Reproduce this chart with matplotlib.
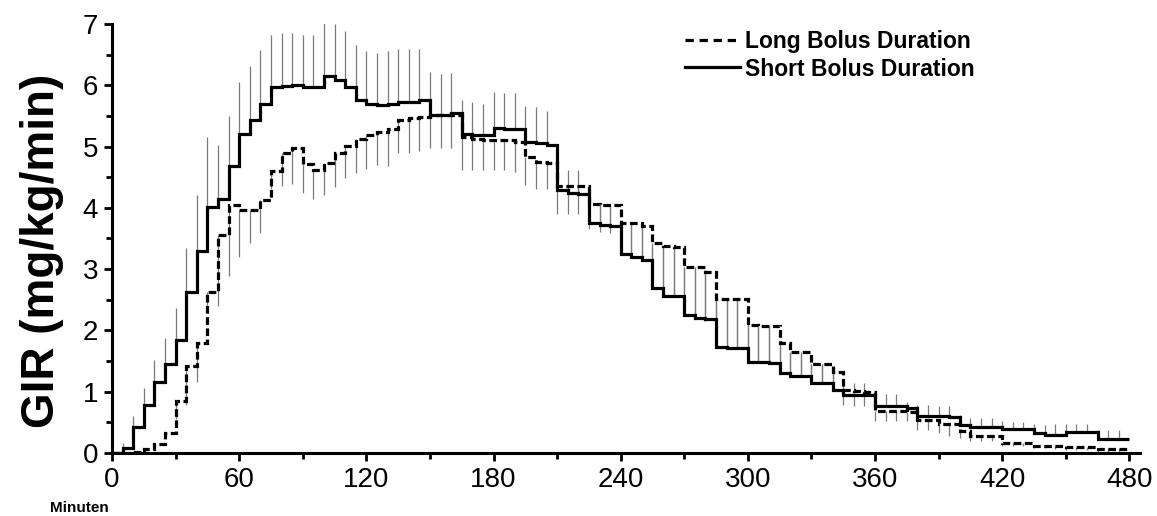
import matplotlib
matplotlib.use('Agg')
import matplotlib.pyplot as plt
from matplotlib.lines import Line2D
from matplotlib.ticker import MultipleLocator
import numpy as np

plt.rcParams['font.family'] = ['Liberation Sans', 'DejaVu Sans']

# Zeitraster: 5-Minuten-Intervalle von 0 bis 480 min
edges = list(range(0, 485, 5))

# Short Bolus Duration: Mittelwert und SD (nach oben)
short_mean = [0.0, 0.08, 0.42, 0.78, 1.16, 1.46, 1.85, 2.63, 3.30, 4.01,
              4.15, 4.68, 5.21, 5.44, 5.69, 5.98, 5.99, 6.01, 5.98, 5.98,
              6.15, 6.08, 5.98, 5.76, 5.70, 5.68, 5.70, 5.73, 5.73, 5.76,
              5.52, 5.52, 5.54, 5.20, 5.19, 5.19, 5.31, 5.29, 5.29, 5.07,
              5.06, 5.02, 4.29, 4.24, 4.23, 3.75, 3.72, 3.70, 3.25, 3.19,
              3.15, 2.70, 2.56, 2.56, 2.25, 2.21, 2.18, 1.73, 1.72, 1.72,
              1.49, 1.49, 1.47, 1.31, 1.25, 1.25, 1.15, 1.15, 1.03, 0.94,
              0.94, 0.94, 0.77, 0.77, 0.77, 0.74, 0.60, 0.60, 0.60, 0.59,
              0.45, 0.42, 0.42, 0.42, 0.39, 0.39, 0.39, 0.33, 0.30, 0.30,
              0.34, 0.35, 0.35, 0.23, 0.23, 0.23]
short_sd = [0.0, 0.08, 0.18, 0.28, 0.36, 0.41, 0.52, 0.71, 0.91, 1.14,
            0.88, 0.82, 0.85, 0.87, 0.89, 0.84, 0.87, 0.85, 0.84, 0.84,
            0.90, 0.92, 0.91, 0.90, 0.86, 0.84, 0.86, 0.86, 0.86, 0.84,
            0.70, 0.67, 0.66, 0.56, 0.53, 0.51, 0.58, 0.59, 0.58, 0.59,
            0.58, 0.56, 0.33, 0.38, 0.38, 0.35, 0.36, 0.36, 0.50, 0.55,
            0.57, 0.67, 0.81, 0.78, 0.79, 0.80, 0.81, 0.82, 0.80, 0.79,
            0.61, 0.57, 0.59, 0.44, 0.37, 0.37, 0.30, 0.30, 0.27, 0.21,
            0.21, 0.21, 0.20, 0.20, 0.20, 0.10, 0.18, 0.18, 0.16, 0.17,
            0.17, 0.15, 0.15, 0.15, 0.13, 0.12, 0.12, 0.15, 0.16, 0.18,
            0.14, 0.13, 0.13, 0.15, 0.15, 0.15]

# Long Bolus Duration: Mittelwert und SD (nach unten)
long_mean = [0.0, 0.0, 0.02, 0.06, 0.15, 0.33, 0.85, 1.42, 1.80, 2.62,
             3.56, 4.05, 3.97, 3.96, 4.13, 4.60, 4.90, 4.97, 4.72, 4.62,
             4.73, 4.89, 5.01, 5.13, 5.19, 5.24, 5.28, 5.44, 5.46, 5.49,
             5.51, 5.51, 5.51, 5.15, 5.13, 5.10, 5.10, 5.10, 5.07, 4.83,
             4.75, 4.74, 4.36, 4.36, 4.36, 4.06, 4.05, 4.04, 3.76, 3.76,
             3.70, 3.42, 3.37, 3.36, 3.04, 3.03, 2.96, 2.52, 2.52, 2.51,
             2.09, 2.08, 2.08, 1.79, 1.65, 1.65, 1.46, 1.46, 1.32, 1.02,
             1.01, 1.00, 0.68, 0.68, 0.68, 0.67, 0.54, 0.54, 0.47, 0.47,
             0.36, 0.28, 0.28, 0.28, 0.17, 0.17, 0.16, 0.12, 0.12, 0.11,
             0.09, 0.09, 0.09, 0.06, 0.06, 0.06]
long_sd = [0.0, 0.0, 0.0, 0.0, 0.02, 0.05, 0.30, 0.63, 0.64, 0.22,
           1.16, 1.16, 0.77, 0.54, 0.54, 0.30, 0.54, 0.58, 0.47, 0.48,
           0.52, 0.55, 0.53, 0.56, 0.55, 0.54, 0.60, 0.55, 0.57, 0.57,
           0.54, 0.54, 0.54, 0.53, 0.51, 0.49, 0.49, 0.49, 0.48, 0.46,
           0.45, 0.44, 0.46, 0.46, 0.46, 0.40, 0.45, 0.45, 0.50, 0.55,
           0.55, 0.70, 0.80, 0.80, 0.80, 0.80, 0.80, 0.80, 0.80, 0.80,
           0.60, 0.60, 0.60, 0.45, 0.40, 0.40, 0.30, 0.30, 0.30, 0.24,
           0.24, 0.24, 0.15, 0.15, 0.15, 0.15, 0.16, 0.16, 0.15, 0.20,
           0.12, 0.08, 0.08, 0.08, 0.05, 0.05, 0.05, 0.04, 0.04, 0.04,
           0.04, 0.04, 0.04, 0.04, 0.04, 0.04]

x_ticks = [0, 60, 120, 180, 240, 300, 360, 420, 480]
y_ticks = [0, 1, 2, 3, 4, 5, 6, 7]

fig = plt.figure(figsize=(11.57, 5.16), dpi=100)
ax = fig.add_axes([0.0968, 0.1221, 0.8885, 0.8314])

x_pts = np.array(edges[:-1])
sm = np.array(short_mean)
lm = np.array(long_mean)

# Fehlerbalken: Short nach oben, Long nach unten
ax.vlines(x_pts, sm, sm + np.array(short_sd), color='#7a7a7a', lw=0.9, zorder=1)
ax.vlines(x_pts, lm - np.array(long_sd), lm, color='#7a7a7a', lw=0.9, zorder=1)

dash = (0, (2.4, 1.1))
ax.stairs(long_mean, edges, baseline=None, color='black', lw=2.3,
          linestyle=dash, zorder=3)
ax.stairs(short_mean, edges, baseline=None, color='black', lw=2.3, zorder=4)

ax.set_xlim(0, 485)
ax.set_ylim(0, 7)
ax.set_xticks(x_ticks)
ax.set_yticks(y_ticks)
ax.xaxis.set_minor_locator(MultipleLocator(30))
ax.yaxis.set_minor_locator(MultipleLocator(0.5))
ax.tick_params(axis='both', which='major', direction='out', length=6, width=2,
               labelsize=20, pad=4)
ax.tick_params(axis='both', which='minor', direction='out', length=4, width=2)

for side in ['top', 'right']:
    ax.spines[side].set_visible(False)
for side in ['left', 'bottom']:
    ax.spines[side].set_linewidth(2.2)

fig.text(0.036, 0.513, 'GIR (mg/kg/min)', rotation=90, ha='center', va='center',
         fontsize=33, fontweight='bold')
fig.text(0.069, 0.0155, 'Minuten', ha='center', va='center', fontsize=11,
         fontweight='bold')

handles = [Line2D([], [], color='black', lw=2.3, linestyle=(0, (2.6, 1.8))),
           Line2D([], [], color='black', lw=2.3)]
fig.legend(handles, ['Long Bolus Duration', 'Short Bolus Duration'],
           loc='upper left', bbox_to_anchor=(0.592, 0.942), frameon=False,
           borderpad=0, borderaxespad=0, handlelength=2.4, handletextpad=0.2,
           labelspacing=0.2, prop={'size': 16.5, 'weight': 'bold'})

fig.savefig('out.png', dpi=100)
